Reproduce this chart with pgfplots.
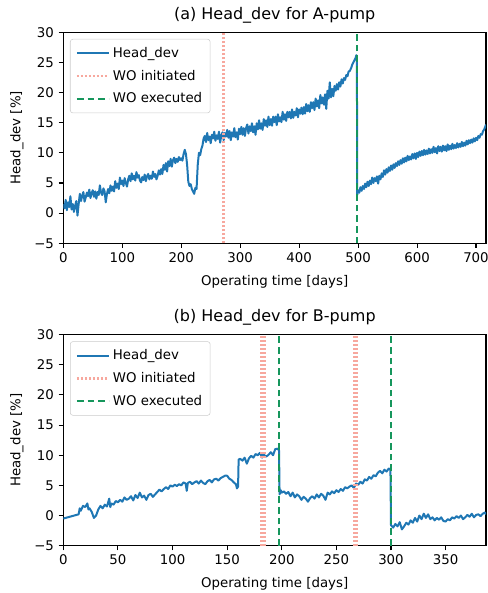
\documentclass[border=0pt]{standalone}
\usepackage{fontspec}
\setmainfont{DejaVu Sans}
\usepackage{pgfplots}
\usepackage{pgfplotstable}
\pgfplotsset{compat=1.18}

\definecolor{hdblue}{HTML}{1F77B4}
\definecolor{wored}{RGB}{247,168,158}
\definecolor{wogreen}{RGB}{22,150,92}

% A-pump head deviation
\pgfplotstableread{
day val
0 1.5
2 0.8
4 2.2
6 0.5
8 1.8
10 1.0
12 2.8
14 0.6
16 1.5
18 0.2
20 1.2
22 2.0
24 -0.4
26 1.5
28 3.2
30 2.0
32 2.9
34 3.5
36 1.9
38 2.6
40 3.4
42 2.8
44 3.9
46 2.5
48 3.3
50 3.8
52 2.7
54 3.6
56 2.4
58 3.5
60 3.0
62 4.6
64 3.4
66 3.0
68 4.1
70 3.6
72 1.8
74 3.2
76 4.0
78 3.3
80 4.6
82 3.7
84 4.4
86 3.6
88 5.3
90 4.2
92 4.9
94 4.0
96 5.9
98 4.8
100 5.4
102 4.5
104 5.8
106 5.0
108 4.4
110 5.6
112 6.2
114 5.3
116 6.6
118 5.6
120 6.2
122 5.4
124 6.8
126 5.9
128 6.3
130 5.4
132 5.1
134 6.0
136 5.5
138 6.4
140 5.3
142 6.1
144 6.5
146 5.6
148 6.2
150 5.7
152 6.9
154 6.0
156 6.5
158 5.6
160 6.2
162 7.1
164 6.4
166 7.3
168 6.5
170 8.0
172 7.2
174 8.3
176 6.9
178 8.6
180 7.8
182 9.0
184 7.7
186 8.8
188 9.2
190 8.3
192 9.0
194 8.5
196 9.3
198 8.8
200 9.1
202 8.7
204 9.8
206 10.5
208 9.8
210 8.0
212 5.2
214 4.5
216 4.8
218 4.0
220 3.6
222 3.2
224 4.2
226 4.0
228 8.0
230 10.0
232 9.6
234 10.6
236 11.2
238 12.4
240 12.8
242 11.8
244 13.3
246 12.1
248 12.7
250 11.6
252 13.0
254 12.4
256 13.5
258 12.0
260 12.9
262 12.3
264 13.5
266 11.7
268 12.9
270 13.4
272 12.1
274 13.3
276 12.7
278 13.8
280 12.5
282 13.6
284 12.1
286 13.4
288 12.7
290 14.1
292 12.6
294 13.4
296 12.2
298 14.0
300 13.1
302 14.3
304 13.0
306 14.1
308 12.8
310 14.1
312 14.7
314 13.2
316 14.4
318 13.6
320 14.9
322 13.4
324 14.4
326 13.0
328 14.9
330 13.9
332 15.4
334 14.0
336 14.9
338 13.8
340 15.6
342 14.5
344 15.4
346 14.3
348 16.0
350 14.6
352 15.6
354 14.5
356 16.0
358 15.1
360 16.0
362 14.6
364 16.4
366 15.2
368 15.9
370 15.1
372 16.8
374 15.5
376 16.4
378 15.3
380 16.8
382 15.9
384 16.8
386 15.7
388 17.2
390 15.8
392 16.8
394 16.2
396 17.4
398 15.9
400 17.2
402 16.5
404 17.5
406 16.4
408 17.6
410 16.5
412 18.1
414 16.9
416 17.9
418 16.8
420 18.4
422 17.4
424 18.4
426 17.1
428 19.0
430 17.7
432 18.7
434 17.4
436 19.6
438 18.2
440 19.2
442 18.0
444 19.7
446 17.3
448 20.3
450 19.0
452 21.7
454 19.2
456 20.6
458 19.4
460 21.1
462 20.3
464 21.4
466 20.5
468 21.7
470 21.0
472 22.2
474 21.5
476 22.4
478 22.1
480 22.9
482 22.7
484 23.5
486 23.6
488 24.0
490 24.6
492 25.0
494 25.4
496 25.8
497 26.2
498 25.9
498.5 3.0
500 3.8
502 3.4
504 4.3
506 3.7
508 4.5
510 4.0
512 4.9
514 4.3
516 5.2
518 4.5
520 5.4
522 4.8
524 5.9
526 5.0
528 5.8
530 5.3
532 6.1
534 4.9
536 6.2
538 5.6
540 6.6
542 6.0
544 7.1
546 6.4
548 7.3
550 6.7
552 7.6
554 7.0
556 7.9
558 7.2
560 8.1
562 7.5
564 8.3
566 7.8
568 8.6
570 8.0
572 8.8
574 8.2
576 9.1
578 8.4
580 9.2
582 8.6
584 9.5
586 8.8
588 9.4
590 8.9
592 9.8
594 9.1
596 9.9
598 9.0
600 10.0
602 9.3
604 10.2
606 9.5
608 10.3
610 9.6
612 10.5
614 9.7
616 10.4
618 9.8
620 10.7
622 9.9
624 10.6
626 10.0
628 11.0
630 10.1
632 10.8
634 9.9
636 11.1
638 10.3
640 11.0
642 10.2
644 11.2
646 10.4
648 11.1
650 10.3
652 11.4
654 10.5
656 11.2
658 10.6
660 11.5
662 10.7
664 11.3
666 10.8
668 11.6
670 10.9
672 11.5
674 11.0
676 11.8
678 11.1
680 11.7
682 11.2
684 12.0
686 11.4
688 12.1
690 11.6
692 12.2
694 11.7
696 12.4
698 11.9
700 12.5
702 12.1
704 12.8
706 12.5
708 13.1
710 13.0
712 13.6
714 13.9
716 14.4
717 14.7
}\headA

% B-pump head deviation
\pgfplotstableread{
day val
0 -0.5
2 -0.4
4 -0.3
6 -0.2
8 -0.1
10 0.0
12 0.1
14 0.2
15 1.2
16 0.8
18 1.6
20 1.4
22 2.0
23 1.0
24 1.2
26 0.6
28 -0.4
30 0.0
32 1.0
34 1.6
36 1.2
38 1.8
40 1.5
42 2.8
43 1.4
44 2.0
46 1.8
48 2.4
50 2.2
52 2.6
54 2.3
56 3.0
58 2.6
60 2.8
62 3.2
64 2.5
66 3.4
68 2.9
70 3.8
72 3.0
74 3.3
76 2.6
78 3.4
80 3.6
82 3.1
84 3.5
86 3.9
88 4.3
90 4.0
92 4.4
94 4.7
96 4.4
98 5.0
100 4.8
102 5.1
104 4.9
106 5.2
108 5.0
110 5.5
112 5.3
113 4.1
114 5.4
116 5.6
118 5.2
120 5.5
122 5.7
124 5.3
126 5.8
128 5.4
130 5.2
132 5.7
134 5.9
136 5.5
138 6.0
140 6.1
142 5.8
144 6.2
146 6.4
148 6.6
150 6.6
152 6.1
154 5.9
156 5.5
158 5.2
159 4.5
160 4.8
160.5 9.3
162 9.4
164 9.1
166 9.6
168 8.6
170 9.5
172 9.9
174 9.6
176 10.2
178 10.0
180 10.4
182 9.6
183 10.3
184 10.0
186 9.8
188 10.1
190 10.5
192 10.0
194 11.0
196 11.1
197.5 10.8
198 3.5
199 4.2
200 3.8
202 4.0
204 3.6
206 3.9
208 3.2
210 3.8
212 3.0
214 3.5
216 3.2
218 2.6
220 3.1
222 2.8
224 2.3
226 2.9
228 3.2
230 2.8
232 3.5
234 3.0
236 3.6
238 3.3
240 2.6
242 3.8
244 3.5
246 4.0
248 3.7
250 4.2
252 3.9
254 4.4
256 4.1
258 4.7
260 4.5
262 4.8
264 5.0
266 4.6
268 5.3
270 5.1
272 5.6
274 5.3
276 6.0
278 5.8
280 6.4
282 6.1
284 6.7
286 6.5
288 7.1
290 7.4
292 7.0
294 7.6
296 7.3
298 7.8
299.5 7.6
300 -1.6
302 -2.0
304 -1.4
306 -1.8
308 -1.1
310 -2.3
312 -1.8
314 -1.2
316 -1.5
318 -0.8
320 -1.2
322 -0.4
324 -1.0
326 0.0
328 -0.6
330 0.3
332 -0.4
334 0.2
336 -0.6
338 -0.3
340 -0.8
342 -0.4
344 -0.7
346 -0.3
348 -0.9
350 -1.0
352 -0.6
354 -0.8
356 -0.3
358 -0.5
360 -0.1
362 -0.4
364 0.0
366 -0.6
368 -0.3
370 0.1
372 -0.2
374 0.3
376 -0.3
378 0.1
380 0.2
382 -0.1
384 0.3
386 0.5
387 0.2
}\headB

\pgfplotsset{
  pump/.style={
    scale only axis, width=317pt, height=158.25pt,
    xmin=0, ymin=-5, ymax=30,
    ytick={-5,0,...,30}, yticklabels={−5,0,5,10,15,20,25,30},
    /pgf/number format/assume math mode=true,
    tick pos=left, tick align=outside, major tick length=3.5pt,
    tick style={black, line width=0.8pt},
    axis line style={black, line width=0.8pt},
    tick label style={font=\fontsize{10}{12}\selectfont},
    xlabel={Operating time [days]}, ylabel={Head\_dev [\%]},
    label style={font=\fontsize{10}{12}\selectfont},
    xlabel style={at={(axis description cs:0.5,-0.182)}, anchor=center},
    ylabel style={at={(axis description cs:-0.11,0.5)}, anchor=center},
    every axis title shift=0pt,
    title style={at={(axis description cs:0.5,1.082)}, anchor=center, font=\fontsize{12}{14}\selectfont},
    legend style={at={(0,1)}, anchor=north west, xshift=5pt, yshift=-5pt,
      draw=black!20, rounded corners=2pt, fill=white, fill opacity=0.8, text opacity=1,
      font=\fontsize{10}{12}\selectfont, row sep=4pt, inner xsep=4pt, inner ysep=4pt,
      cells={anchor=west}},
    legend image code/.code={\draw[##1] (0pt,0pt) -- (24pt,0pt);},
  },
  hd/.style={hdblue, line width=1.5pt, line join=round},
  woi/.style={wored, line width=2pt, dash pattern=on 1.5pt off 1.5pt},
  woe/.style={wogreen, line width=1.8pt, dash pattern=on 5pt off 3pt},
}

\begin{document}
\begin{tikzpicture}
\useasboundingbox (0pt,0pt) rectangle (366pt,444.75pt);

\begin{axis}[pump, at={(47.5pt,262.3pt)}, anchor=south west,
  xmax=717, xtick={0,100,...,700},
  title={(a) Head\_dev for A-pump}]
\addplot[hd] table[x=day, y=val] {\headA};
\addlegendentry{Head\_dev}
\addplot[woi] coordinates {(272,-5) (272,30)};
\addlegendentry{WO initiated}
\addplot[woe] coordinates {(498,-5) (498,30)};
\addlegendentry{WO executed}
\end{axis}

\begin{axis}[pump, at={(47.5pt,35.5pt)}, anchor=south west,
  xmax=387, xtick={0,50,...,350},
  title={(b) Head\_dev for B-pump}]
\addplot[hd] table[x=day, y=val] {\headB};
\addlegendentry{Head\_dev}
\addplot[woi] coordinates {(181.5,-5) (181.5,30)};
\addlegendentry{WO initiated}
\addplot[woi, forget plot] coordinates {(184,-5) (184,30)};
\addplot[woi, forget plot] coordinates {(266,-5) (266,30)};
\addplot[woi, forget plot] coordinates {(268.5,-5) (268.5,30)};
\addplot[woe] coordinates {(197.5,-5) (197.5,30)};
\addlegendentry{WO executed}
\addplot[woe, forget plot] coordinates {(300,-5) (300,30)};
\end{axis}
\end{tikzpicture}
\end{document}
